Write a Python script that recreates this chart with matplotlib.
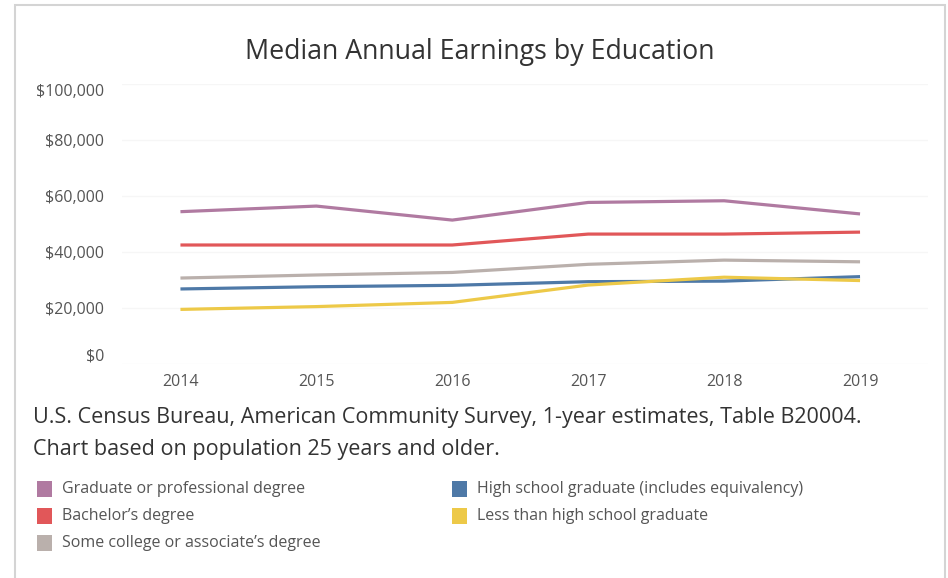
import matplotlib.pyplot as plt
from matplotlib.patches import Rectangle
from matplotlib.ticker import FuncFormatter

plt.rcParams['font.family'] = ['Open Sans', 'DejaVu Sans']

# Median annual earnings (USD), population 25 years and older
years = [2014, 2015, 2016, 2017, 2018, 2019]
graduate = [54400, 56400, 51400, 57700, 58300, 53600]
bachelor = [42500, 42500, 42500, 46400, 46400, 47100]
some_college = [30700, 31800, 32700, 35600, 37100, 36500]
high_school = [26800, 27600, 28100, 29400, 29600, 31200]
less_than_hs = [19500, 20500, 22000, 28200, 31000, 29800]

series_names = [
    "Graduate or professional degree",
    "Bachelor\u2019s degree",
    "Some college or associate\u2019s degree",
    "High school graduate (includes equivalency)",
    "Less than high school graduate",
]
series_values = [graduate, bachelor, some_college, high_school, less_than_hs]
series_colors = ["#b07aa1", "#e15759", "#bab0ac", "#4e79a7", "#edc948"]
y_ticks = [0, 20000, 40000, 60000, 80000, 100000]

W, H = 948, 578
fig = plt.figure(figsize=(W / 100, H / 100), dpi=100)

# light frame around the whole sheet
fig.patches.append(Rectangle((15 / W, -0.05), 930 / W, 1.05 - 5 / H,
                             transform=fig.transFigure, fill=False,
                             edgecolor="#d4d4d4", linewidth=1.5))

ax = fig.add_axes([122 / W, 1 - 364 / H, 806 / W, 280 / H])

for name, vals, col in zip(series_names, series_values, series_colors):
    ax.plot(years, vals, color=col, linewidth=2.3, solid_capstyle='butt')

ax.set_xlim(2013.57, 2019.5)
ax.set_ylim(0, 100000)
ax.set_xticks(years)
ax.set_yticks(y_ticks)
ax.yaxis.set_major_formatter(FuncFormatter(lambda v, p: f"${v:,.0f}"))
ax.tick_params(length=0, labelsize=11.5, colors="#555555")
ax.tick_params(axis='y', pad=13)
ax.tick_params(axis='x', pad=7)
ylabels = ax.get_yticklabels()
ylabels[0].set_verticalalignment('bottom')
ylabels[-1].set_verticalalignment('top')

ax.grid(axis='y', color="#f6f6f6", linewidth=1)
ax.set_axisbelow(True)
for s in ax.spines.values():
    s.set_visible(False)

fig.text(480 / W, 1 - 52 / H, "Median Annual Earnings by Education",
         ha='center', va='center', fontsize=19.3, color="#333333")

fig.text(33 / W, 1 - 418 / H,
         "U.S. Census Bureau, American Community Survey, 1-year estimates, Table B20004.",
         ha='left', va='center', fontsize=15.5, color="#333333")
fig.text(33 / W, 1 - 449 / H, "Chart based on population 25 years and older.",
         ha='left', va='center', fontsize=15.5, color="#333333")

# legend in two columns
leg_pos = [(37, 489), (37, 516), (37, 543), (452, 489), (452, 516)]
for (lx, ly), name, col in zip(leg_pos, series_names, series_colors):
    fig.patches.append(Rectangle((lx / W, 1 - (ly + 8) / H), 15 / W, 16 / H,
                                 transform=fig.transFigure, facecolor=col,
                                 edgecolor='none'))
    fig.text((lx + 25) / W, 1 - ly / H, name, ha='left', va='center',
             fontsize=11.5, color="#555555")

fig.savefig("out.png", dpi=100, facecolor="white")
